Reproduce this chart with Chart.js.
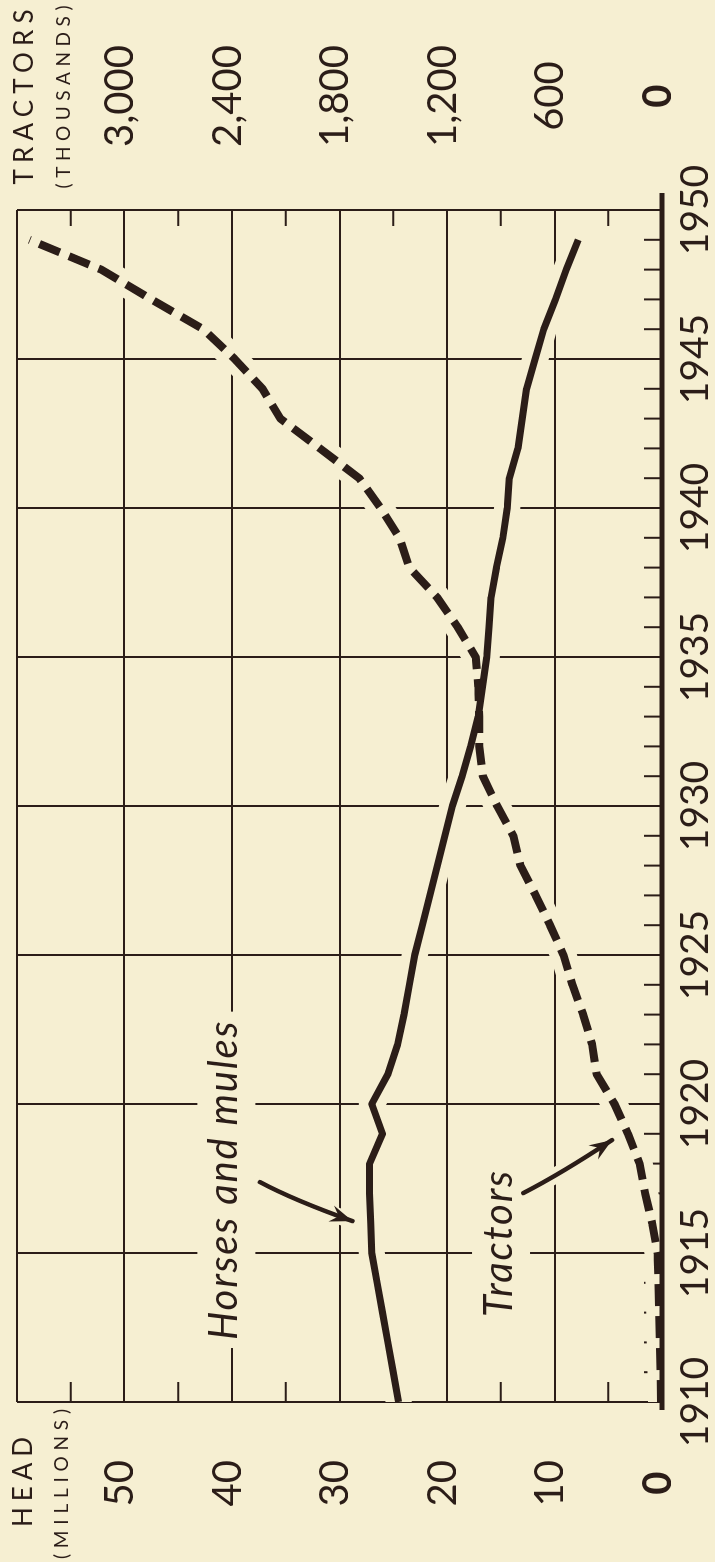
<!DOCTYPE html>
<html>
<head>
<meta charset="utf-8">
<script src="https://cdn.jsdelivr.net/npm/chart.js@4.4.1/dist/chart.umd.min.js"></script>
<style>
  html, body { margin: 0; padding: 0; width: 715px; height: 1562px; overflow: hidden; background: #f6efd2; }
  #wrap { position: absolute; left: 0; top: 0; width: 1562px; height: 715px;
          transform-origin: 0 0; transform: translate(0, 1562px) rotate(-90deg); }
  canvas { display: block; }
</style>
</head>
<body>
<div id="wrap"><canvas id="c"></canvas></div>
<script>
// ---------- data ----------
const years = [1910,1911,1912,1913,1914,1915,1916,1917,1918,1919,
               1920,1921,1922,1923,1924,1925,1926,1927,1928,1929,
               1930,1931,1932,1933,1934,1935,1936,1937,1938,1939,
               1940,1941,1942,1943,1944,1945,1946,1947,1948,1949];
// Horses and mules, millions of head
const horsesMules = [24.5,25.0,25.5,26.0,26.5,27.0,27.1,27.2,27.2,26.0,
                     27.0,25.5,24.6,24.0,23.5,23.0,22.3,21.6,20.9,20.2,
                     19.5,18.6,17.8,17.1,16.7,16.3,16.1,15.9,15.4,14.8,
                     14.4,14.2,13.4,13.0,12.6,11.8,11.0,9.9,8.9,7.8];
// Tractors, thousands
const tractors = [5,8,12,15,20,25,55,94,125,190,
                  265,365,390,440,500,550,625,705,790,830,
                  920,1000,1020,1020,1025,1040,1140,1255,1410,1465,
                  1570,1690,1910,2130,2230,2385,2560,2850,3130,3530];
const yearTicks = [1910,1915,1920,1925,1930,1935,1940,1945,1950];
const headTicks = [0,10,20,30,40,50];
const tractorTicks = [0,600,1200,1800,2400,3000];
const headMax = 60, tractorMax = 3600;

// ---------- styles ----------
const BG = '#f6efd2';
const INK = '#2b1d18';
const FONT = 'Lato, "Open Sans", sans-serif';
const NOTE_FONT = 'italic 40px ' + FONT;
const NOTE_SPACING = '1.8px';

const horsesPts = years.map((yr, i) => ({ x: yr, y: horsesMules[i] }));
const tractorPts = years.map((yr, i) => ({ x: yr, y: tractors[i] }));

// annotation anchors in data units (year, head millions)
const notes = {
  horses:   { text: 'Horses and mules', at: [1912.08, 39.5], arrow: [[1917.38, 37.4], [1916.78, 34.3], [1916.07, 28.8]] },
  tractors: { text: 'Tractors',         at: [1912.85, 13.95], arrow: [[1917.01, 12.9], [1917.68, 9.3], [1918.79, 4.65]] }
};

function spacedText(ctx, text, cx, baseline, width) {
  ctx.letterSpacing = '0px';
  const w = ctx.measureText(text).width;
  const n = [...text].length;
  const sp = n > 1 ? (width - w) / (n - 1) : 0;
  ctx.letterSpacing = sp + 'px';
  ctx.textAlign = 'left';
  ctx.fillText(text, cx - width / 2, baseline);
  ctx.letterSpacing = '0px';
}

const decor = {
  id: 'decor',
  beforeDatasetsDraw(chart) {
    const { ctx, chartArea: a, scales: { x, y } } = chart;
    ctx.save();
    ctx.strokeStyle = INK;
    ctx.lineWidth = 2;
    ctx.beginPath();
    for (let yr = 1911; yr < 1950; yr++) {
      if (yr % 5 === 0) continue;
      const px = x.getPixelForValue(yr);
      ctx.moveTo(px, a.bottom); ctx.lineTo(px, a.bottom - 18);
    }
    for (const v of [5, 15, 25, 35, 45, 55]) {
      const py = y.getPixelForValue(v);
      ctx.moveTo(a.left, py); ctx.lineTo(a.left + 20, py);
      ctx.moveTo(a.right, py); ctx.lineTo(a.right - 16, py);
    }
    ctx.stroke();
    // backdrops behind annotation texts
    ctx.fillStyle = BG;
    ctx.font = NOTE_FONT;
    ctx.letterSpacing = NOTE_SPACING;
    for (const k of ['horses', 'tractors']) {
      const n = notes[k];
      const bx = x.getPixelForValue(n.at[0]), by = y.getPixelForValue(n.at[1]);
      const w = ctx.measureText(n.text).width;
      ctx.fillRect(bx - 8, by - 40, w + 16, 58);
    }
    ctx.letterSpacing = '0px';
    ctx.restore();
  },
  afterDatasetsDraw(chart) {
    const { ctx, chartArea: a, scales: { x, y } } = chart;
    ctx.save();
    // heavy baseline
    ctx.strokeStyle = INK;
    ctx.lineWidth = 5;
    ctx.lineCap = 'butt';
    ctx.beginPath();
    const y0 = y.getPixelForValue(0);
    ctx.moveTo(x.getPixelForValue(1910) - 8, y0);
    ctx.lineTo(x.getPixelForValue(1950) + 17, y0);
    ctx.stroke();
    // annotation texts + arrows
    ctx.fillStyle = INK;
    ctx.textAlign = 'left';
    ctx.textBaseline = 'alphabetic';
    for (const k of ['horses', 'tractors']) {
      const n = notes[k];
      ctx.font = NOTE_FONT;
      ctx.letterSpacing = NOTE_SPACING;
      ctx.fillText(n.text, x.getPixelForValue(n.at[0]), y.getPixelForValue(n.at[1]));
      ctx.letterSpacing = '0px';
      const P = n.arrow.map(p => [x.getPixelForValue(p[0]), y.getPixelForValue(p[1])]);
      const path = () => { ctx.beginPath(); ctx.moveTo(P[0][0], P[0][1]); ctx.quadraticCurveTo(P[1][0], P[1][1], P[2][0], P[2][1]); };
      ctx.lineCap = 'round';
      path(); ctx.strokeStyle = BG; ctx.lineWidth = 16; ctx.stroke();
      path(); ctx.strokeStyle = INK; ctx.lineWidth = 4.5; ctx.stroke();
      const ang = Math.atan2(P[2][1] - P[1][1], P[2][0] - P[1][0]);
      const L = 24, s = 0.36;
      const tx = P[2][0], ty = P[2][1];
      ctx.beginPath();
      ctx.moveTo(tx, ty);
      ctx.lineTo(tx - L * Math.cos(ang - s), ty - L * Math.sin(ang - s));
      ctx.lineTo(tx - 0.6 * L * Math.cos(ang), ty - 0.6 * L * Math.sin(ang));
      ctx.lineTo(tx - L * Math.cos(ang + s), ty - L * Math.sin(ang + s));
      ctx.closePath();
      ctx.fill();
    }
    ctx.restore();
  },
  afterDraw(chart) {
    const { ctx, chartArea: a } = chart;
    ctx.save();
    ctx.fillStyle = INK;
    ctx.textBaseline = 'alphabetic';
    const lc = a.left - 80, rc = a.right + 113;
    ctx.font = '26px ' + FONT;
    spacedText(ctx, 'HEAD', lc, 32, 90);
    spacedText(ctx, 'TRACTORS', rc, 33, 175);
    ctx.font = '19px ' + FONT;
    spacedText(ctx, '(MILLIONS)', lc - 2, 68, 150);
    spacedText(ctx, '(THOUSANDS)', rc, 70, 183);
    ctx.restore();
  }
};

const tickFont = ctx => ({ family: FONT, size: 40, weight: (ctx.tick && ctx.tick.value === 0) ? 'bold' : 'normal' });

new Chart(document.getElementById('c'), {
  type: 'line',
  data: {
    datasets: [
      { label: 'halo-t', data: tractorPts, yAxisID: 'y1', borderColor: BG, borderWidth: 26,
        pointRadius: 0, order: 10, borderCapStyle: 'butt', borderJoinStyle: 'round', tension: 0 },
      { label: 'halo-h', data: horsesPts, yAxisID: 'y', borderColor: BG, borderWidth: 26,
        pointRadius: 0, order: 10, borderCapStyle: 'round', borderJoinStyle: 'round', tension: 0 },
      { label: 'Tractors', data: tractorPts, yAxisID: 'y1', borderColor: INK, borderWidth: 8,
        borderDash: [22, 10], pointRadius: 0, order: 1, borderCapStyle: 'butt', borderJoinStyle: 'round', tension: 0 },
      { label: 'Horses and mules', data: horsesPts, yAxisID: 'y', borderColor: INK, borderWidth: 7,
        pointRadius: 0, order: 0, borderCapStyle: 'butt', borderJoinStyle: 'round', tension: 0 }
    ]
  },
  options: {
    responsive: true,
    maintainAspectRatio: false,
    animation: false,
    devicePixelRatio: 1,
    layout: { padding: { top: 17, left: 0, right: 0, bottom: 0 } },
    plugins: { legend: { display: false }, tooltip: { enabled: false } },
    scales: {
      x: {
        type: 'linear', position: 'bottom', min: 1910, max: 1950,
        afterBuildTicks: s => { s.ticks = yearTicks.map(v => ({ value: v })); },
        ticks: { color: INK, font: { family: FONT, size: 39 }, padding: 10, maxRotation: 0, autoSkip: false,
                 callback: v => String(v) },
        grid: { color: INK, lineWidth: 2, drawTicks: false },
        border: { display: false },
        afterFit: s => { s.height = 53; }
      },
      y: {
        type: 'linear', position: 'left', min: 0, max: headMax,
        afterBuildTicks: s => { s.ticks = headTicks.concat([headMax]).map(v => ({ value: v })); },
        ticks: { color: INK, font: tickFont, padding: 58, crossAlign: 'center', labelOffset: -4,
                 callback: v => v === headMax ? '' : String(v) },
        grid: { color: INK, lineWidth: 2, drawTicks: false },
        border: { display: false },
        afterFit: s => { s.width = 160; s.paddingTop = 0; s.paddingBottom = 0; }
      },
      y1: {
        type: 'linear', position: 'right', min: 0, max: tractorMax,
        afterBuildTicks: s => { s.ticks = tractorTicks.concat([tractorMax]).map(v => ({ value: v })); },
        ticks: { color: INK, font: tickFont, padding: 63, crossAlign: 'center', labelOffset: -4,
                 callback: v => v === tractorMax ? '' : v.toLocaleString('en-US') },
        grid: { display: false, drawTicks: false },
        border: { display: false },
        afterFit: s => { s.width = 210; s.paddingTop = 0; s.paddingBottom = 0; }
      }
    }
  },
  plugins: [decor]
});
</script>
</body>
</html>
